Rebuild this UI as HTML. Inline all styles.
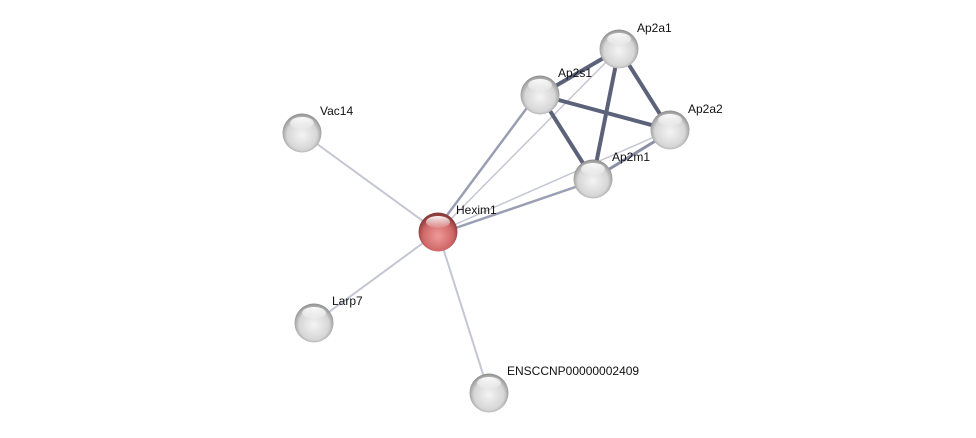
<!DOCTYPE html>
<html><head><meta charset="utf-8"><style>
html,body{margin:0;padding:0;background:#fff;}
svg{display:block;}
text{font-family:"Liberation Sans",sans-serif;font-size:12px;fill:#111;}
</style></head><body>
<svg width="976" height="438" viewBox="0 0 976 438" xmlns="http://www.w3.org/2000/svg">
<defs>
<radialGradient id="g" cx="50%" cy="55%" r="55%">
<stop offset="0" stop-color="#f4f4f4"/><stop offset="0.7" stop-color="#d6d6d6"/><stop offset="1" stop-color="#8a8a8a"/>
</radialGradient>
<radialGradient id="r" cx="50%" cy="60%" r="55%">
<stop offset="0" stop-color="#f09a9a"/><stop offset="0.7" stop-color="#d06868"/><stop offset="1" stop-color="#8a3a3a"/>
</radialGradient>
<linearGradient id="h" x1="0" y1="0" x2="0" y2="1">
<stop offset="0" stop-color="#fff" stop-opacity="0.95"/><stop offset="1" stop-color="#fff" stop-opacity="0.1"/>
</linearGradient>
<g id="hl"><ellipse cx="0" cy="-10" rx="12" ry="6" fill="url(#h)"/></g>
</defs>
<g stroke-linecap="round">
<line x1="438" y1="232" x2="302" y2="133" stroke="#c4c6d2" stroke-width="2"/>
<line x1="438" y1="232" x2="314" y2="323" stroke="#c4c6d2" stroke-width="2"/>
<line x1="438" y1="232" x2="489" y2="393" stroke="#c4c6d2" stroke-width="2"/>
<line x1="438" y1="232" x2="619" y2="49" stroke="#c4c6d2" stroke-width="1.5"/>
<line x1="438" y1="232" x2="670" y2="130" stroke="#c4c6d2" stroke-width="1.5"/>
<line x1="436" y1="230" x2="538" y2="93" stroke="#9a9eb2" stroke-width="2.5"/>
<line x1="438" y1="234" x2="593" y2="181" stroke="#9a9eb2" stroke-width="2.5"/>
<line x1="593" y1="179" x2="670" y2="132" stroke="#8a8fa6" stroke-width="3"/>
<line x1="540" y1="95" x2="619" y2="49" stroke="#5c6279" stroke-width="4"/>
<line x1="540" y1="95" x2="670" y2="130" stroke="#5c6279" stroke-width="4"/>
<line x1="540" y1="95" x2="593" y2="179" stroke="#5c6279" stroke-width="4"/>
<line x1="619" y1="49" x2="593" y2="179" stroke="#5c6279" stroke-width="4"/>
<line x1="619" y1="49" x2="670" y2="130" stroke="#5c6279" stroke-width="4"/>
</g>
<g>
<circle cx="302" cy="133" r="19.5" fill="url(#g)"/><use href="#hl" x="302" y="133"/>
<circle cx="314" cy="323" r="19.5" fill="url(#g)"/><use href="#hl" x="314" y="323"/>
<circle cx="489" cy="393" r="19.5" fill="url(#g)"/><use href="#hl" x="489" y="393"/>
<circle cx="540" cy="95" r="19.5" fill="url(#g)"/><use href="#hl" x="540" y="95"/>
<circle cx="619" cy="49" r="19.5" fill="url(#g)"/><use href="#hl" x="619" y="49"/>
<circle cx="670" cy="130" r="19.5" fill="url(#g)"/><use href="#hl" x="670" y="130"/>
<circle cx="593" cy="179" r="19.5" fill="url(#g)"/><use href="#hl" x="593" y="179"/>
<circle cx="438" cy="232" r="19.5" fill="url(#r)"/><use href="#hl" x="438" y="232"/>
</g>
<text x="320" y="115">Vac14</text>
<text x="456" y="214">Hexim1</text>
<text x="332" y="305">Larp7</text>
<text x="507" y="375">ENSCCNP00000002409</text>
<text x="558" y="77">Ap2s1</text>
<text x="637" y="32">Ap2a1</text>
<text x="688" y="113">Ap2a2</text>
<text x="612" y="161">Ap2m1</text>
</svg>
</body></html>
